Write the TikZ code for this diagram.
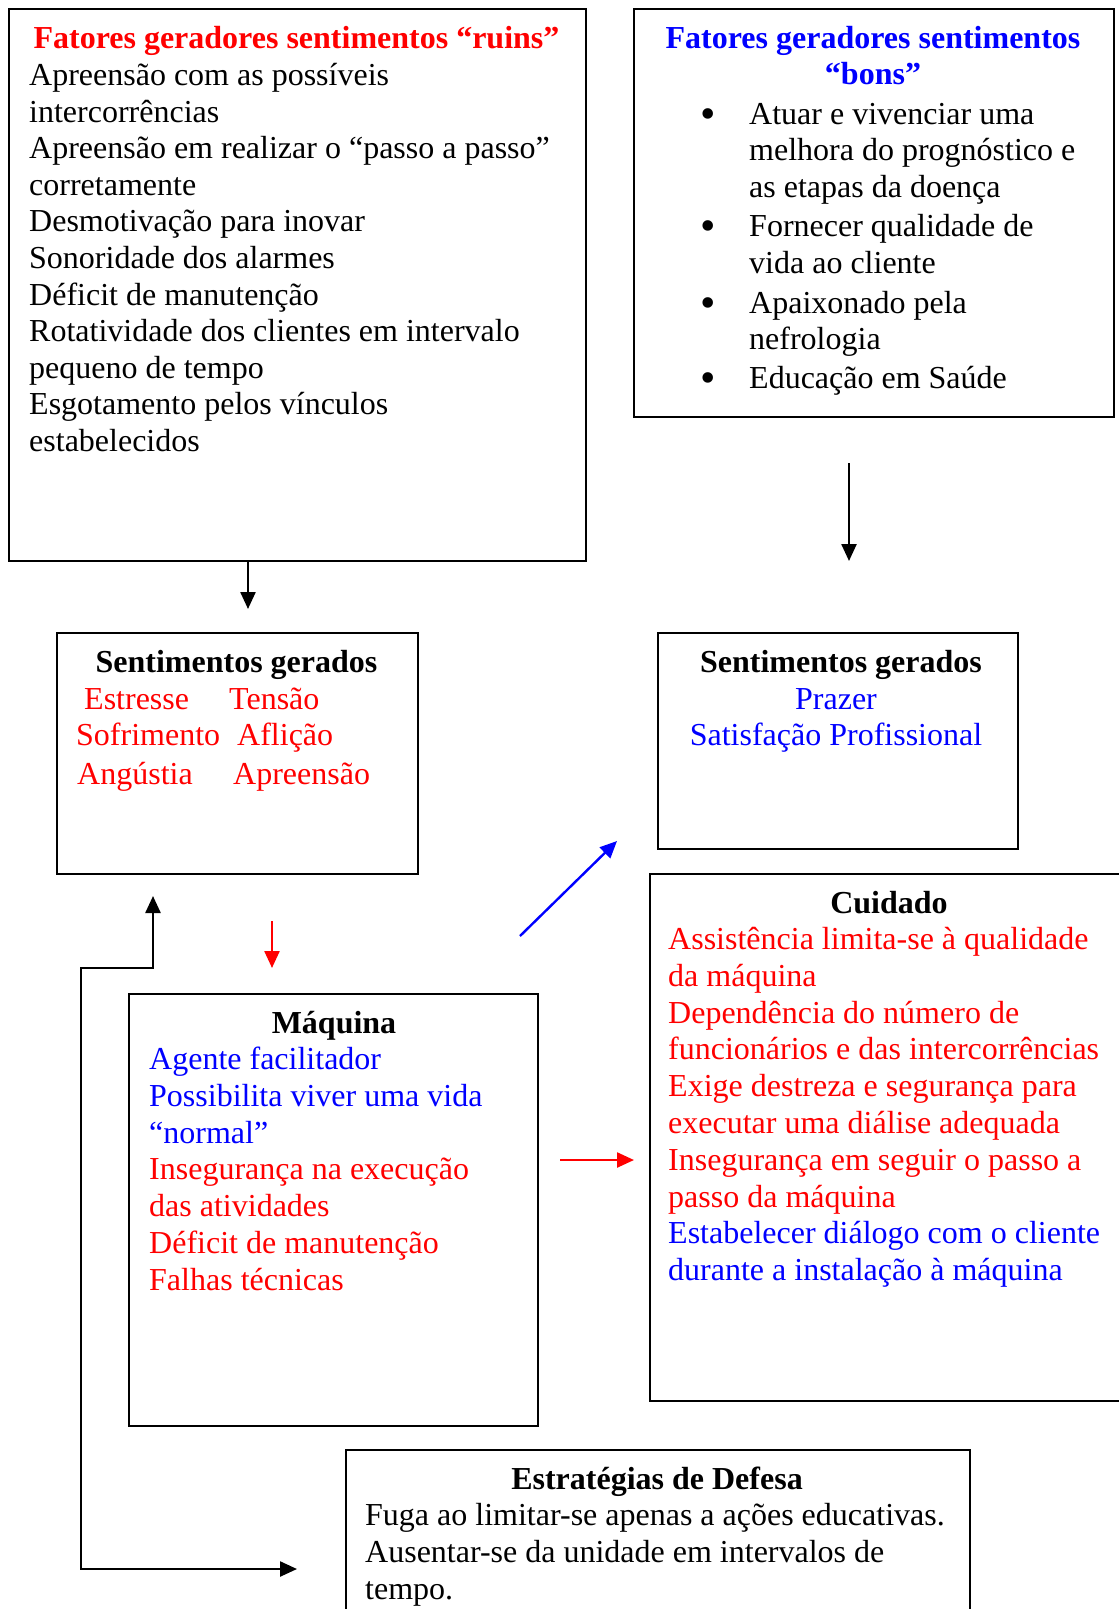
\documentclass[tikz,border=0pt]{standalone}
\usepackage{fontspec}
\setmainfont{Liberation Serif}
\usetikzlibrary{arrows.meta}
\definecolor{cred}{RGB}{255,0,0}
\definecolor{cblue}{RGB}{0,0,255}
\tikzset{
 box/.style={draw, line width=2pt, inner sep=0pt, anchor=north west},
 txt/.style={inner sep=0pt, anchor=base west, font=\fontsize{32}{36.7}\selectfont},
 ctxt/.style={inner sep=0pt, anchor=base, font=\fontsize{32}{36.7}\selectfont},
 ttl/.style={inner sep=0pt, anchor=base, font=\fontsize{32}{36.7}\selectfont\bfseries},
 bul/.style={inner sep=0pt, anchor=base, font=\fontsize{44}{44}\selectfont},
 arr/.style={line width=2.4pt, -{Triangle[length=17pt,width=15pt]}},
 darr/.style={line width=2.4pt, {Triangle[length=17pt,width=15pt]}-{Triangle[length=17pt,width=15pt]}},
}
\begin{document}
\begin{tikzpicture}[x=1pt,y=-1pt]
\clip (0,0) rectangle (1119,1609);
\fill[white] (0,0) rectangle (1119,1609);

% boxes
\node[box, minimum width=577pt, minimum height=552pt] (ruins) at (8,8) {};
\node[box, minimum width=480pt, minimum height=408pt] (bons) at (633,8) {};
\node[box, minimum width=361pt, minimum height=241pt] (sgr) at (56,632) {};
\node[box, minimum width=360pt, minimum height=216pt] (sgb) at (657,632) {};
\node[box, minimum width=500pt, minimum height=527pt] (cuid) at (649,873) {};
\node[box, minimum width=409pt, minimum height=432pt] (maq) at (128,993) {};
\node[box, minimum width=624pt, minimum height=200pt] (estr) at (345,1449) {};

% ruins
\node[ttl, text=cred] (ruinsT) at (296.5,48.5) {Fatores geradores sentimentos “ruins”};
\foreach \t [count=\i] in {Apreensão com as possíveis, intercorrências,
  Apreensão em realizar o “passo a passo”, corretamente, Desmotivação para inovar,
  Sonoridade dos alarmes, Déficit de manutenção, Rotatividade dos clientes em intervalo,
  pequeno de tempo, Esgotamento pelos vínculos, estabelecidos}
  \node[txt] (ruins\i) at (29,{85.5+36.6*(\i-1)}) {\t};

% bons
\node[ttl, text=cblue] (bonsT1) at (873,48.5) {Fatores geradores sentimentos};
\node[ttl, text=cblue] (bonsT2) at (873,84.5) {“bons”};
\foreach \t/\y [count=\i] in {Atuar e vivenciar uma/124.5, melhora do prognóstico e/160.5,
  as etapas da doença/197.5, Fornecer qualidade de/236.5, vida ao cliente/273.5,
  Apaixonado pela/313.5, nefrologia/349.5, Educação em Saúde/388.5}
  \node[txt] (bons\i) at (749,\y) {\t};
\foreach \y [count=\i] in {124.5,236.5,313.5,388.5}
  \node[bul] (bul\i) at (708,\y+4) {•};

% sentimentos ruins
\node[ttl] (sgrT) at (236.5,672.5) {Sentimentos gerados};
\node[txt, text=cred] (sgr1) at (84,709.5) {Estresse};
\node[txt, text=cred] (sgr2) at (229,709.5) {Tensão};
\node[txt, text=cred] (sgr3) at (76,745.5) {Sofrimento};
\node[txt, text=cred] (sgr4) at (237,745.5) {Aflição};
\node[txt, text=cred] (sgr5) at (77,784.5) {Angústia};
\node[txt, text=cred] (sgr6) at (233,784.5) {Apreensão};

% sentimentos bons
\node[ttl] (sgbT) at (841,672.5) {Sentimentos gerados};
\node[ctxt, text=cblue] (sgb1) at (836,709.5) {Prazer};
\node[ctxt, text=cblue] (sgb2) at (836,745.5) {Satisfação Profissional};

% cuidado
\node[ttl] (cuidT) at (889,913.5) {Cuidado};
\foreach \t [count=\i] in {Assistência limita-se à qualidade, da máquina,
  Dependência do número de, funcionários e das intercorrências,
  Exige destreza e segurança para, executar uma diálise adequada,
  Insegurança em seguir o passo a, passo da máquina}
  \node[txt, text=cred] (cuid\i) at (668,{949.5+36.8*(\i-1)}) {\t};
\foreach \t [count=\i] in {Estabelecer diálogo com o cliente, durante a instalação à máquina}
  \node[txt, text=cblue] (cuidb\i) at (668,{949.5+36.8*(\i+7)}) {\t};

% maquina
\node[ttl] (maqT) at (334,1033.5) {Máquina};
\foreach \t [count=\i] in {Agente facilitador, Possibilita viver uma vida, “normal”}
  \node[txt, text=cblue] (maqb\i) at (149,{1069.5+36.8*(\i-1)}) {\t};
\foreach \t [count=\i] in {Insegurança na execução, das atividades, Déficit de manutenção, Falhas técnicas}
  \node[txt, text=cred] (maqr\i) at (149,{1069.5+36.8*(\i+2)}) {\t};

% estrategias
\node[ttl] (estrT) at (657,1489.5) {Estratégias de Defesa};
\node[txt] (estr1) at (365,1525.5) {Fuga ao limitar-se apenas a ações educativas.};
\node[txt] (estr2) at (365,1562.5) {Ausentar-se da unidade em intervalos de};
\node[txt] (estr3) at (365,1599.5) {tempo.};

% connectors
\coordinate (a1e) at (248,609);
\draw[arr] (ruins.south -| a1e) -- (a1e);
\coordinate (a2s) at (849,463);
\coordinate (a2e) at (849,561);
\draw[arr] (a2s) -- (a2e);
\coordinate (a3s) at (272,921);
\coordinate (a3e) at (272,968);
\draw[arr, cred] (a3s) -- (a3e);
\coordinate (a4s) at (520,936);
\coordinate (a4e) at (617,841);
\draw[arr, cblue] (a4s) -- (a4e);
\coordinate (a5s) at (560,1160);
\coordinate (a5e) at (634,1160);
\draw[arr, cred] (a5s) -- (a5e);
\coordinate (e-up) at (153,896);
\coordinate (e-b1) at (153,968);
\coordinate (e-b2) at (81,968);
\coordinate (e-b3) at (81,1569);
\coordinate (e-right) at (297,1569);
\draw[darr] (e-up) -- (e-b1) -- (e-b2) -- (e-b3) -- (e-right);
\end{tikzpicture}
\end{document}
